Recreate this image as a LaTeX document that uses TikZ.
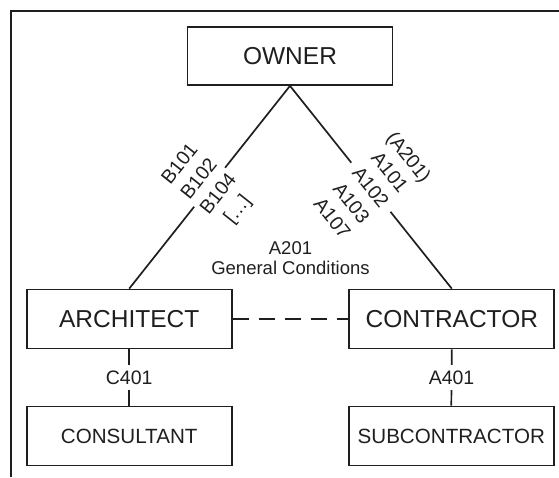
\documentclass[tikz,border=0pt]{standalone}
\usepackage{fontspec}
\setmainfont{Liberation Sans}
\begin{document}
\begin{tikzpicture}[x=1pt,y=-1pt,
  ink/.style={draw=black!88, line width=1.7pt},
  party/.style={ink, minimum width=205pt, minimum height=59pt, inner sep=0pt, text=black!88},
  bigparty/.style={party, font=\fontsize{24.5}{28}\selectfont},
  smallparty/.style={party, font=\fontsize{20.6}{24}\selectfont},
  doclabel/.style={fill=white, text=black!88, font=\fontsize{19.5}{24.5}\selectfont, align=center},
]
\useasboundingbox (0,0) rectangle (559,477);
% open frame along the top and left edges
\draw[ink] (10.7,477) -- (10.7,10.7) -- (559,10.7);

% the parties
\node[bigparty, minimum height=58pt] (owner) at (290,56) {OWNER};
\node[bigparty] (architect) at (129.2,319) {ARCHITECT};
\node[bigparty] (contractor) at (451.8,319) {CONTRACTOR};
\node[smallparty] (consultant) at (129.2,436) {CONSULTANT};
\node[smallparty] (subcontractor) at (451.3,436) {SUBCONTRACTOR};

% agreements between the parties
\draw[ink] (owner.south) -- node[doclabel, sloped, inner sep=2pt]
  {B101\\B102\\B104\\{[}…{]}} (architect.north);
\draw[ink] (owner.south) -- node[doclabel, sloped, inner sep=2pt]
  {(A201)\\A101\\A102\\A103\\A107} (contractor.north);
\draw[ink, dash pattern=on 16pt off 10pt] (architect.east) -- (contractor.west);
\draw[ink] (architect.south) -- node[doclabel, inner sep=5.5pt] {C401} (consultant.north);
\draw[ink] (contractor.south) -- node[doclabel, inner sep=5.5pt] {A401} (subcontractor.north);

% general conditions shared by the agreements
\node[text=black!88, font=\fontsize{18.5}{20}\selectfont, align=center, inner sep=0pt]
  (general) at (290.5,258.5) {A201\\General Conditions};
\end{tikzpicture}
\end{document}
